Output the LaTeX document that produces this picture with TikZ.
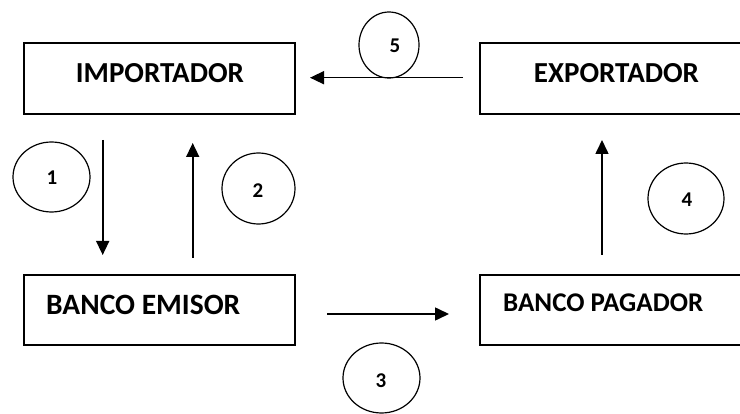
\documentclass[tikz,border=0pt]{standalone}
\usepackage{fontspec}
\setmainfont{Carlito}
\usetikzlibrary{arrows.meta,shapes.geometric}
\begin{document}
\begin{tikzpicture}[x=1pt,y=-1pt,
  party/.style={draw,rectangle,line width=1.9pt,inner sep=0pt},
  stepnum/.style={draw,ellipse,line width=1.2pt,inner sep=0pt},
  boxlabel/.style={inner sep=0pt,font=\bfseries\fontsize{#1}{#1}\selectfont},
  numlabel/.style={inner sep=0pt,font=\bfseries\fontsize{21}{21}\selectfont},
  flow/.style={line width=1.6pt,-{Triangle[length=14pt,width=13pt]}}]
\clip (0,0) rectangle (740,414);

% the four parties
\node[party,minimum width=271pt,minimum height=71pt] (imp) at (159.5,78.5) {};
\node[party,minimum width=270pt,minimum height=71pt] (exp) at (615,78.5) {};
\node[party,minimum width=271pt,minimum height=70pt] (emi) at (159.5,310) {};
\node[party,minimum width=270pt,minimum height=70pt] (pag) at (615,310) {};

\node[boxlabel=29,anchor=base] (timp) at (160,82.3) {IMPORTADOR};
\node[boxlabel=29,anchor=base] (texp) at (616.5,82.3) {EXPORTADOR};
\node[boxlabel=29.5,anchor=base west] (temi) at (46,314.3) {BANCO EMISOR};
\node[boxlabel=27,anchor=base west] (tpag) at (503,311.3) {BANCO PAGADOR};

% arrow end points
\coordinate (a1s) at (102.7,140);  \coordinate (a1e) at (102.7,255);
\coordinate (a2s) at (192.7,258);  \coordinate (a2e) at (192.7,143);
\coordinate (a3s) at (327,314);    \coordinate (a3e) at (449,314);
\coordinate (a4s) at (602,255);    \coordinate (a4e) at (602,140);
\coordinate (a5s) at (463,77.7);   \coordinate (a5e) at (310,77.7);

\draw[flow] (a1s) -- (a1e);
\draw[flow] (a2s) -- (a2e);
\draw[flow] (a3s) -- (a3e);
\draw[flow] (a4s) -- (a4e);
\draw[flow] (a5s) -- (a5e);

% numbered steps
\node[stepnum,minimum width=77pt,minimum height=70pt] (c1) at (51.5,177) {};
\node[stepnum,minimum width=73pt,minimum height=71pt] (c2) at (258.5,188.5) {};
\node[stepnum,minimum width=77pt,minimum height=70pt] (c3) at (381.5,378) {};
\node[stepnum,minimum width=76pt,minimum height=71pt] (c4) at (686,198.5) {};
\node[stepnum,minimum width=60pt,minimum height=66pt] (c5) at (389,45) {};

\node[numlabel,anchor=base] (n1) at (52,185) {1};
\node[numlabel,anchor=base] (n2) at (258,197.5) {2};
\node[numlabel,anchor=base] (n3) at (381,387.3) {3};
\node[numlabel,anchor=base] (n4) at (687,206.5) {4};
\node[numlabel,anchor=base] (n5) at (395,52.3) {5};
\end{tikzpicture}
\end{document}
